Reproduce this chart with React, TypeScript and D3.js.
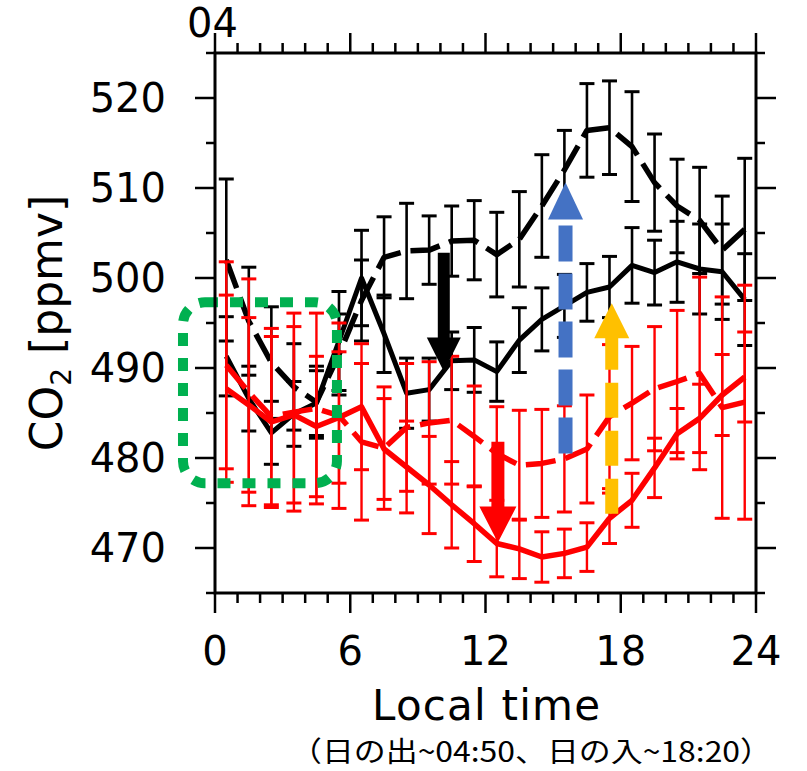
import React from 'react';
import * as d3 from 'd3';

// Local time (hour bin centres)
const hours = [0.5, 1.5, 2.5, 3.5, 4.5, 5.5, 6.5, 7.5, 8.5, 9.5, 10.5, 11.5, 12.5, 13.5, 14.5, 15.5, 16.5, 17.5, 18.5, 19.5, 20.5, 21.5, 22.5, 23.5];

// Black dashed series
const bdMean = [502.0, 495.2, 490.6, 487.9, 486.2, 491.5, 497.5, 502.3, 503.0, 503.1, 504.1, 504.2, 502.6, 504.3, 508.0, 512.0, 516.4, 516.7, 514.6, 510.6, 508.0, 506.4, 503.1, 505.4];
const bdErr = [9.0, 6.0, 6.2, 4.8, 4.0, 4.5, 4.5, 4.5, 5.3, 3.8, 3.9, 4.4, 4.7, 5.3, 5.7, 4.4, 5.2, 5.2, 6.1, 5.4, 5.2, 5.9, 6.0, 7.9];

// Black solid series
const bsMean = [491.3, 486.6, 482.8, 484.9, 486.1, 493.0, 500.0, 493.8, 487.2, 487.6, 490.8, 490.9, 489.6, 493.1, 495.4, 496.9, 498.4, 499.0, 501.4, 500.6, 501.8, 501.0, 500.7, 497.6];
const bsErr = [4.4, 3.6, 3.5, 3.6, 3.6, 5.5, 5.3, 4.3, 3.9, 3.5, 3.2, 3.6, 3.3, 3.6, 3.5, 3.5, 3.2, 3.4, 4.2, 3.6, 4.5, 5.0, 5.3, 5.1];

// Red dashed series
const rdMean = [490.3, 487.3, 484.6, 485.1, 485.5, 484.7, 481.8, 481.1, 483.4, 483.9, 484.2, 482.4, 480.5, 479.2, 479.4, 479.9, 481.0, 484.6, 486.1, 487.7, 488.5, 489.4, 485.6, 486.2];
const rdErr = [11.5, 12.6, 9.8, 11.0, 10.6, 10.3, 8.7, 6.8, 7.1, 6.8, 7.1, 5.6, 5.2, 6.1, 6.0, 5.9, 6.0, 8.0, 6.3, 6.9, 7.9, 10.7, 12.3, 13.0];

// Red solid series
const rsMean = [487.7, 485.9, 484.0, 484.8, 483.5, 484.5, 485.7, 481.0, 479.0, 477.0, 474.8, 472.7, 470.5, 469.9, 469.0, 469.4, 470.1, 473.3, 475.3, 478.9, 482.7, 484.4, 487.0, 489.0];
const rsErr = [10.4, 9.7, 9.5, 9.8, 7.8, 7.3, 7.0, 5.6, 5.1, 5.4, 4.8, 4.2, 3.7, 3.3, 2.8, 2.7, 2.7, 2.8, 3.0, 3.3, 2.8, 3.8, 4.5, 5.0];

const xTicks = [0, 6, 12, 18, 24];
const yTicks = [470, 480, 490, 500, 510, 520];

// Annotation anchors in data units: [hour, from ppmv, to ppmv]
const blackArrow = [10.15, 502.8, 489.6];
const redArrow = [12.55, 481.8, 470.6];
const blueArrow = [15.55, 480.5, 510.6];
const yellowArrow = [17.6, 473.8, 497.2];
// Green box: [hour0, hour1, ppmv top, ppmv bottom]
const greenBox = [-1.42, 5.41, 497.3, 477.2];

const FONT = "'DejaVu Sans', sans-serif";

function solidArrow(cx: number, yTail: number, yTip: number, shaftW: number, headW: number, headL: number) {
  const dir = yTip > yTail ? 1 : -1;
  const yBase = yTip - dir * headL;
  const p = d3.path();
  p.moveTo(cx - shaftW / 2, yTail);
  p.lineTo(cx - shaftW / 2, yBase);
  p.lineTo(cx - headW / 2, yBase);
  p.lineTo(cx, yTip);
  p.lineTo(cx + headW / 2, yBase);
  p.lineTo(cx + shaftW / 2, yBase);
  p.lineTo(cx + shaftW / 2, yTail);
  p.closePath();
  return p.toString();
}

function headOnly(cx: number, yTip: number, headW: number, headL: number, dir: number) {
  const yBase = yTip - dir * headL;
  const p = d3.path();
  p.moveTo(cx - headW / 2, yBase);
  p.lineTo(cx, yTip);
  p.lineTo(cx + headW / 2, yBase);
  p.closePath();
  return p.toString();
}

export default function App() {
  const x = d3.scaleLinear().domain([0, 24]).range([215, 756]);
  const y = d3.scaleLinear().domain([465, 525]).range([593, 53]);
  const L = x(0), R = x(24), T = y(525), B = y(465);

  const line = d3.line<number>().x((_, i) => x(hours[i])).y((d) => y(d));

  const series = [
    { mean: bdMean, err: bdErr, color: '#000', dash: '30 10', w: 5.5, ew: 2.6 },
    { mean: bsMean, err: bsErr, color: '#000', dash: undefined, w: 5, ew: 2.6 },
    { mean: rdMean, err: rdErr, color: '#ff0000', dash: '30 10', w: 5.5, ew: 2.4 },
    { mean: rsMean, err: rsErr, color: '#ff0000', dash: undefined, w: 5.5, ew: 2.4 },
  ];

  const xMinor = d3.range(0, 25, 1);
  const yMinor = d3.range(465, 526, 5);
  const cap = 7.5;

  const bxA = x(blackArrow[0]);
  const rxA = x(redArrow[0]);
  const blx = x(blueArrow[0]);
  const ylx = x(yellowArrow[0]);
  const blueTail = y(blueArrow[1]);
  const blueTip = y(blueArrow[2]);
  const yelTail = y(yellowArrow[1]);
  const yelTip = y(yellowArrow[2]);
  const blueHeadL = 37;
  const yelHeadL = 35;

  return (
    <svg width={807} height={771} style={{ position: 'absolute', left: 0, top: 0, background: '#fff' }} fontFamily={FONT}>
      <rect x={0} y={0} width={807} height={771} fill="#fff" />

      {series.map((s, si) => (
        <g key={si}>
          {hours.map((h, i) => {
            const cx = x(h);
            const y0 = y(s.mean[i] - s.err[i]);
            const y1 = y(s.mean[i] + s.err[i]);
            return (
              <g key={i} stroke={s.color} strokeWidth={s.ew}>
                <line x1={cx} x2={cx} y1={y0} y2={y1} />
                <line x1={cx - cap} x2={cx + cap} y1={y0} y2={y0} strokeWidth={3} />
                <line x1={cx - cap} x2={cx + cap} y1={y1} y2={y1} strokeWidth={3} />
              </g>
            );
          })}
          <path d={line(s.mean) || ''} fill="none" stroke={s.color} strokeWidth={s.w} strokeDasharray={s.dash} strokeLinejoin="round" />
        </g>
      ))}

      {/* green dotted box */}
      <rect
        x={x(greenBox[0])}
        y={y(greenBox[2])}
        width={x(greenBox[1]) - x(greenBox[0])}
        height={y(greenBox[3]) - y(greenBox[2])}
        rx={22}
        ry={22}
        fill="none"
        stroke="#00B050"
        strokeWidth={10}
        strokeDasharray="13 12"
      />

      <path d={solidArrow(bxA, y(blackArrow[1]), y(blackArrow[2]), 12, 34, 34)} fill="#000" />
      <path d={solidArrow(rxA, y(redArrow[1]), y(redArrow[2]), 13, 37, 36)} fill="#ff0000" />
      <line x1={blx} x2={blx} y1={blueTail} y2={blueTip + blueHeadL - 1} stroke="#4472C4" strokeWidth={14} strokeDasharray="36 12" />
      <path d={headOnly(blx, blueTip, 35, blueHeadL, -1)} fill="#4472C4" />
      <line x1={ylx} x2={ylx} y1={yelTail} y2={yelTip + yelHeadL - 1} stroke="#FFC000" strokeWidth={13} strokeDasharray="35 13" />
      <path d={headOnly(ylx, yelTip, 35, yelHeadL, -1)} fill="#FFC000" />

      {/* frame */}
      <rect x={L} y={T} width={R - L} height={B - T} fill="none" stroke="#000" strokeWidth={3} />
      {xMinor.map((t) => {
        const major = t % 6 === 0;
        const len = major ? 20 : 10;
        return (
          <g key={'xt' + t} stroke="#000" strokeWidth={2.5}>
            <line x1={x(t)} x2={x(t)} y1={B} y2={B + len} />
            <line x1={x(t)} x2={x(t)} y1={T} y2={T - len} />
          </g>
        );
      })}
      {yMinor.map((t) => {
        const major = t % 10 === 0;
        const len = major ? 20 : 9;
        return (
          <g key={'yt' + t} stroke="#000" strokeWidth={2.5}>
            <line x1={L} x2={L - len} y1={y(t)} y2={y(t)} />
            <line x1={R} x2={R + len} y1={y(t)} y2={y(t)} />
          </g>
        );
      })}

      {yTicks.map((t) => (
        <text key={'yl' + t} x={166} y={y(t)} dy="0.36em" textAnchor="end" fontSize={40} fill="#000">
          {t}
        </text>
      ))}
      {xTicks.map((t) => (
        <text key={'xl' + t} x={x(t)} y={665} textAnchor="middle" fontSize={40} fill="#000">
          {t}
        </text>
      ))}

      <text x={187} y={37} fontSize={40} fill="#000">04</text>

      <text x={486} y={720} textAnchor="middle" fontSize={42} fill="#000" textLength={228} lengthAdjust="spacing">Local time</text>
      <text transform="translate(62,323) rotate(-90)" textAnchor="middle" fontSize={44} fill="#000">
        <tspan>CO</tspan>
        <tspan dy={9} fontSize={28}>2</tspan>
        <tspan dy={-9}> [ppmv]</tspan>
      </text>
      <text x={531} y={762} textAnchor="middle" fontSize={28} fill="#000" fontFamily="'Noto Sans CJK JP', sans-serif" textLength={482} lengthAdjust="spacingAndGlyphs">
        （日の出~04:50、日の入~18:20）
      </text>
    </svg>
  );
}
